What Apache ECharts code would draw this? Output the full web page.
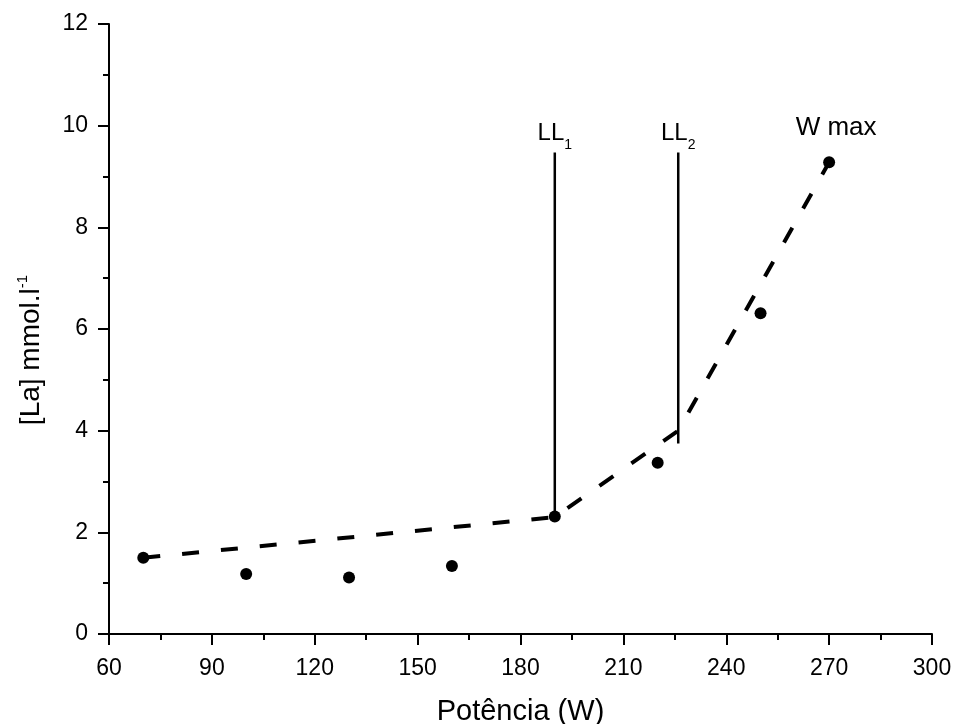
<!DOCTYPE html>
<html>
<head>
<meta charset="utf-8">
<script src="https://cdn.jsdelivr.net/npm/echarts@6/dist/echarts.min.js"></script>
<style>
  html, body { margin: 0; padding: 0; background: #fff; }
  #chart { width: 954px; height: 724px; }
</style>
</head>
<body>
<div id="chart"></div>
<script>
// measured lactate points
const power = [70, 100, 130, 160, 190, 220, 250, 270];
const lactate = [1.5, 1.18, 1.11, 1.34, 2.31, 3.37, 6.31, 9.28];

// dashed broken-line fit
const fitX = [70, 190, 226, 270];
const fitY = [1.5, 2.3, 4.0, 9.28];

// threshold markers
const thresholdNames = ["1", "2"];
const thresholdX = [190, 226];
const thresholdLow = [2.3, 3.75];
const thresholdHigh = [9.47, 9.47];

const font = "Liberation Sans, Arial, sans-serif";
const chart = echarts.init(document.getElementById("chart"));

const thresholdSeries = thresholdX.map((x, i) => ({
  type: "line",
  data: [
    { value: [x, thresholdLow[i]] },
    {
      value: [x, thresholdHigh[i]],
      label: {
        show: true,
        position: "top",
        distance: 7,
        formatter: "{a|LL}{b|" + thresholdNames[i] + "}",
        rich: {
          a: { fontSize: 24, lineHeight: 24, verticalAlign: "top", color: "#000", fontFamily: font },
          b: { fontSize: 14, lineHeight: 14, padding: [17, 0, 0, 0], verticalAlign: "top", color: "#000", fontFamily: font },
        },
      },
    },
  ],
  symbol: "circle",
  symbolSize: 0,
  lineStyle: { color: "#000", width: 2.5 },
  itemStyle: { color: "#000" },
  silent: true,
  z: 3,
}));

const option = {
  animation: false,
  grid: { left: 109, right: 22, top: 24, bottom: 90, outerBoundsMode: "none" },
  xAxis: {
    type: "value",
    min: 60,
    max: 300,
    interval: 30,
    name: "Potência (W)",
    nameLocation: "middle",
    nameGap: 63,
    nameTextStyle: { fontSize: 29, color: "#000", fontFamily: font },
    axisLine: { onZero: false, lineStyle: { color: "#000", width: 2 } },
    axisTick: { length: 11, lineStyle: { color: "#000", width: 2 } },
    minorTick: { show: true, splitNumber: 2, length: 6, lineStyle: { color: "#000", width: 2 } },
    axisLabel: { fontSize: 23, color: "#000", fontFamily: font, margin: 23 },
    splitLine: { show: false },
  },
  yAxis: {
    type: "value",
    min: 0,
    max: 12,
    interval: 2,
    name: "{a|[La] mmol.l}{b|-1}",
    nameLocation: "middle",
    nameGap: 64,
    nameTextStyle: {
      padding: [0, 42, 0, 0],
      rich: {
        a: { fontSize: 28, lineHeight: 30, verticalAlign: "bottom", color: "#000", fontFamily: font },
        b: { fontSize: 15, lineHeight: 15, verticalAlign: "top", color: "#000", fontFamily: font },
      },
    },
    axisLine: { show: true, onZero: false, lineStyle: { color: "#000", width: 2 } },
    axisTick: { show: true, length: 11, lineStyle: { color: "#000", width: 2 } },
    minorTick: { show: true, splitNumber: 2, length: 6, lineStyle: { color: "#000", width: 2 } },
    axisLabel: { fontSize: 23, color: "#000", fontFamily: font, margin: 21 },
    splitLine: { show: false },
  },
  series: [
    {
      type: "line",
      data: fitX.map((x, i) => [x, fitY[i]]),
      showSymbol: false,
      lineStyle: { color: "#000", width: 4, type: [17, 22] },
      silent: true,
      z: 2,
    },
    ...thresholdSeries,
    {
      type: "scatter",
      data: power.map((x, i) => [x, lactate[i]]),
      symbolSize: 12,
      itemStyle: { color: "#000", opacity: 1 },
      label: {
        show: true,
        position: "top",
        distance: 15,
        offset: [7, 0],
        fontSize: 26,
        color: "#000",
        opacity: 1,
        fontFamily: font,
        formatter: (p) => (p.dataIndex === power.length - 1 ? "W max" : ""),
      },
      z: 4,
    },
  ],
};

chart.setOption(option);
window.addEventListener("resize", () => chart.resize());
</script>
</body>
</html>
